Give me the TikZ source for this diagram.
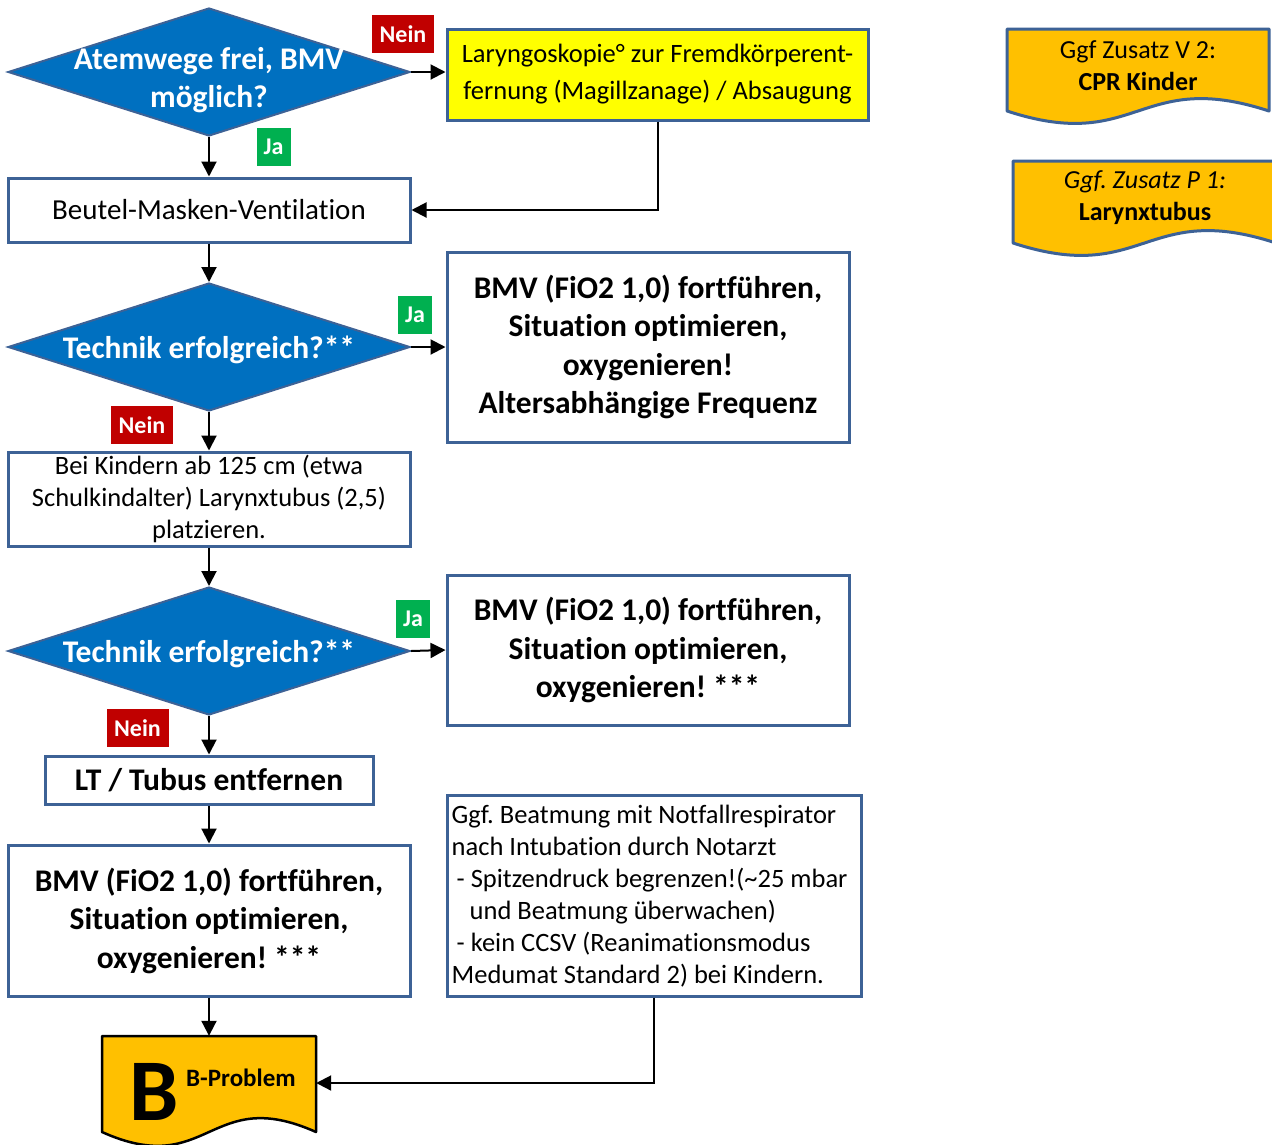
\documentclass[tikz,border=0pt]{standalone}
\usepackage{fontspec}
\setmainfont{Carlito}[Ligatures=NoCommon]
\usetikzlibrary{shapes.geometric,arrows.meta}
\definecolor{dblue}{HTML}{0070C0}
\definecolor{edge}{HTML}{3D6296}
\definecolor{nred}{HTML}{C00000}
\definecolor{ngreen}{HTML}{00B050}
\definecolor{yel}{HTML}{FFFF00}
\definecolor{amber}{HTML}{FFC000}
\frenchspacing
\begin{document}
\begin{tikzpicture}[x=1pt,y=-1pt,
  box/.style={draw=edge, line width=3pt, fill=white, inner sep=0pt, align=center, text=black},
  reg/.style={font=\fontsize{26.5}{32}\selectfont},
  bld/.style={font=\bfseries\fontsize{31.5}{38.5}\selectfont},
  dia/.style={diamond, draw=edge, line width=2pt, fill=dblue, inner sep=0pt,
    minimum width=402pt, minimum height=128pt},
  dtext/.style={text=white, align=center, inner sep=0pt, font=\bfseries\fontsize{31.5}{38}\selectfont},
  tag/.style={text=white, inner sep=0pt, minimum height=38pt, font=\bfseries\fontsize{24}{28}\selectfont},
  no/.style={tag, fill=nred, minimum width=62pt},
  yes/.style={tag, fill=ngreen, minimum width=34pt},
  arr/.style={line width=2pt, -{Triangle[length=15pt,width=15pt]}},
  docfill/.style={fill=amber, draw=edge, line width=3pt, line join=round},
]
\useasboundingbox[fill=white] (0,0) rectangle (1272,1144);

% main column
\node[dia] (d1) at (209,72) {};
\node[dtext] (d1t) at (209,80) {Atemwege frei, BMV\\möglich?};
\node[box, fill=yel, minimum width=421pt, minimum height=91pt,
  font=\fontsize{26.5}{37}\selectfont] (lar) at (657.5,74.5)
  {Laryngoskopie° zur Fremdkörperent-\\fernung (Magillzanage) / Absaugung};
\node[box, minimum width=402pt, minimum height=64pt, font=\fontsize{29}{34}\selectfont]
  (bmv) at (209,210) {Beutel-Masken-Ventilation};

\node[dia] (d2) at (209,347) {};
\node[dtext] (d2t) at (209,350) {Technik erfolgreich?**};
\node[box, bld, minimum width=402pt, minimum height=190pt] (r1) at (648,347)
  {BMV (FiO2 1,0) fortführen,\\Situation optimieren,\\oxygenieren!\\Altersabhängige Frequenz};

\node[box, reg, minimum width=402pt, minimum height=94pt] (kind) at (209,499)
  {Bei Kindern ab 125 cm (etwa\\Schulkindalter) Larynxtubus (2,5)\\platzieren.};

\node[dia] (d3) at (209,651) {};
\node[dtext] (d3t) at (209,654) {Technik erfolgreich?**};
\node[box, bld, minimum width=402pt, minimum height=150pt] (r2) at (648,650)
  {BMV (FiO2 1,0) fortführen,\\Situation optimieren,\\oxygenieren! ***};

\node[box, bld, minimum width=328pt, minimum height=48pt] (lt) at (209,780)
  {LT / Tubus entfernen};
\node[box, bld, minimum width=402pt, minimum height=151pt] (bmv3) at (209,920.5)
  {BMV (FiO2 1,0) fortführen,\\Situation optimieren,\\oxygenieren! ***};

% note box with left-aligned text
\node[box, minimum width=414pt, minimum height=201pt] (notes) at (654,895.5) {};
\node[reg, align=left, anchor=west, inner sep=0pt] (notest) at ([xshift=6pt,yshift=-1pt]notes.west)
  {Ggf. Beatmung mit Notfallrespirator\\
   nach Intubation durch Notarzt\\
   \hspace*{5pt}- Spitzendruck begrenzen!(\textasciitilde 25 mbar\\
   \hspace*{18pt}und Beatmung überwachen)\\
   \hspace*{5pt}- kein CCSV (Reanimationsmodus\\
   Medumat Standard 2) bei Kindern.};

% B-Problem document shape
\node[minimum width=214pt, minimum height=94pt, inner sep=0pt] (bprob) at (209,1083) {};
\draw[fill=amber, draw=black, line width=2.5pt, line join=round]
  (102,1036) -- (316,1036) -- (316,1132)
  .. controls (209,1084) and (209,1180) .. (102,1132) -- cycle;
\node[anchor=base, inner sep=0pt, font=\bfseries\fontsize{88}{88}\selectfont] (bbig) at (154,1120) {B};
\node[anchor=base west, inner sep=0pt, font=\bfseries\fontsize{25}{30}\selectfont] (btxt) at (186,1086) {B-Problem};

% side notes
\draw[docfill] (1007,29) -- (1269,29) -- (1269,111)
  .. controls (1138,68) and (1138,154) .. (1007,111) -- cycle;
\node[align=center, inner sep=0pt, font=\fontsize{26}{32}\selectfont] (v2) at (1138,66)
  {Ggf Zusatz V 2:\\\textbf{CPR Kinder}};
\draw[docfill] (1013,161) -- (1276,161) -- (1276,243)
  .. controls (1144.5,200) and (1144.5,286) .. (1013,243) -- cycle;
\node[align=center, inner sep=0pt, font=\fontsize{26}{32}\selectfont] (p1) at (1145,198)
  {\textit{Ggf. Zusatz P 1:}\\\textbf{Larynxtubus}};

% yes / no tags
\node[no] (n1) at (403,34) {Nein};
\node[yes] (j1) at (273.5,147) {Ja};
\node[yes] (j2) at (415,315) {Ja};
\node[no] (n2) at (142,425) {Nein};
\node[yes] (j3) at (413,619) {Ja};
\node[no] (n3) at (137.5,728) {Nein};

% connectors
\draw[arr] (d1.east) -- (lar.west |- d1.east);
\draw[arr] (d1.south) -- (bmv.north);
\draw[arr] (lar.south) |- (bmv.east);
\draw[arr] (bmv.south) -- (d2.north);
\draw[arr] (d2.east) -- (r1.west);
\draw[arr] (d2.south) -- (kind.north);
\draw[arr] (kind.south) -- (d3.north);
\draw[arr] (d3.east) -- (r2.west);
\draw[arr] (d3.south) -- (lt.north);
\draw[arr] (lt.south) -- (bmv3.north);
\draw[arr] (bmv3.south) -- (bprob.north);
\draw[arr] (notes.south) |- (bprob.east);
\end{tikzpicture}
\end{document}
